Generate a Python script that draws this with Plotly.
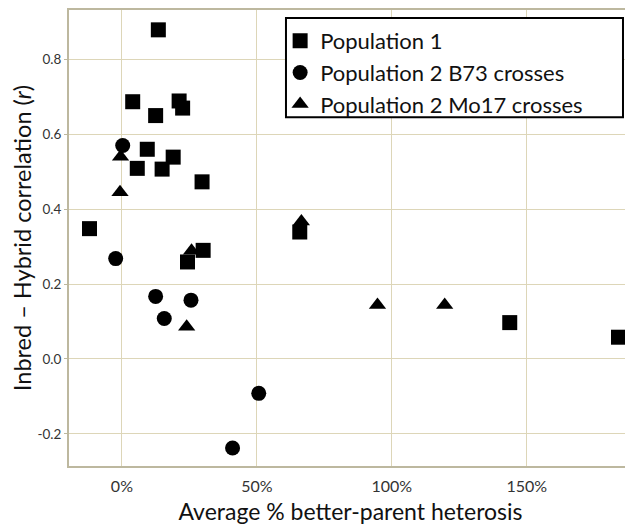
import plotly.graph_objects as go

# Population 1 (squares)
pop1_x = [13.5, 4.0, 12.5, 21.2, 22.5, 9.4, 19.0, 5.7, 14.9, 29.7, -12.0, 30.1, 24.3, 65.9, 143.7, 184.0]
pop1_y = [0.879, 0.687, 0.65, 0.689, 0.67, 0.56, 0.539, 0.509, 0.507, 0.473, 0.348, 0.29, 0.259, 0.339, 0.097, 0.058]

# Population 2 B73 crosses (circles)
b73_x = [0.3, -2.3, 12.5, 25.6, 15.7, 50.7, 41.0]
b73_y = [0.57, 0.268, 0.167, 0.157, 0.108, -0.092, -0.238]

# Population 2 Mo17 crosses (triangles)
mo17_x = [-0.5, -0.7, 25.8, 24.0, 66.5, 94.7, 119.6]
mo17_y = [0.54, 0.445, 0.289, 0.086, 0.367, 0.144, 0.144]

x_tickvals = [0, 50, 100, 150]
x_ticktext = ["0%", "50%", "100%", "150%"]
y_tickvals = [-0.2, 0.0, 0.2, 0.4, 0.6, 0.8]
y_ticktext = ["-0.2", "0.0", "0.2", "0.4", "0.6", "0.8"]

fig = go.Figure()
fig.add_trace(go.Scatter(x=pop1_x, y=pop1_y, mode="markers", name="Population 1",
                         marker=dict(symbol="square", size=15, color="black")))
fig.add_trace(go.Scatter(x=b73_x, y=b73_y, mode="markers", name="Population 2 B73 crosses",
                         marker=dict(symbol="circle", size=15, color="black")))
fig.add_trace(go.Scatter(x=mo17_x, y=mo17_y, mode="markers", name="Population 2 Mo17 crosses",
                         marker=dict(symbol="triangle-up", size=15, color="black")))

font_family = "Lato, 'Open Sans', sans-serif"
grid_col = "#ddd6b8"
axis_col = "#bdb89f"

fig.update_layout(
    width=625, height=520,
    margin=dict(l=61, r=1, t=2, b=62),
    paper_bgcolor="white", plot_bgcolor="white",
    font=dict(family=font_family, color="#222"),
    showlegend=True,
    legend=dict(x=0.375, y=0.978, xanchor="left", yanchor="top",
                borderwidth=0, bgcolor="rgba(0,0,0,0)",
                font=dict(size=22, color="#111"), itemsizing="trace",
                tracegroupgap=0, itemwidth=30),
    shapes=[dict(type="rect", xref="paper", yref="paper",
                 x0=0.3854, x1=0.984, y0=0.765, y1=0.9825,
                 line=dict(color="black", width=2), fillcolor="white", layer="above")],
    xaxis=dict(range=[-19.6, 189], tickvals=x_tickvals, ticktext=x_ticktext,
               automargin=False,
               showgrid=True, gridcolor=grid_col, gridwidth=1.3, zeroline=False,
               showline=True, linecolor=axis_col, linewidth=2, mirror=True,
               ticks="outside", ticklen=5, tickcolor="rgba(0,0,0,0)",
               tickfont=dict(size=16, color="#333"),
               title=dict(text="Average % better-parent heterosis", font=dict(size=23, color="#111"), standoff=10)),
    yaxis=dict(range=[-0.286, 0.932], tickvals=y_tickvals, ticktext=y_ticktext,
               automargin=False,
               showgrid=True, gridcolor=grid_col, gridwidth=1.3, zeroline=False,
               showline=True, linecolor=axis_col, linewidth=2, mirror=True,
               ticks="outside", ticklen=3, tickcolor=axis_col,
               tickfont=dict(size=13.5, color="#333"),
               title=dict(text="Inbred \u2013 Hybrid correlation (<i>r</i>)", font=dict(size=23.5, color="#111"), standoff=2)),
)

fig.write_html("out.html")
